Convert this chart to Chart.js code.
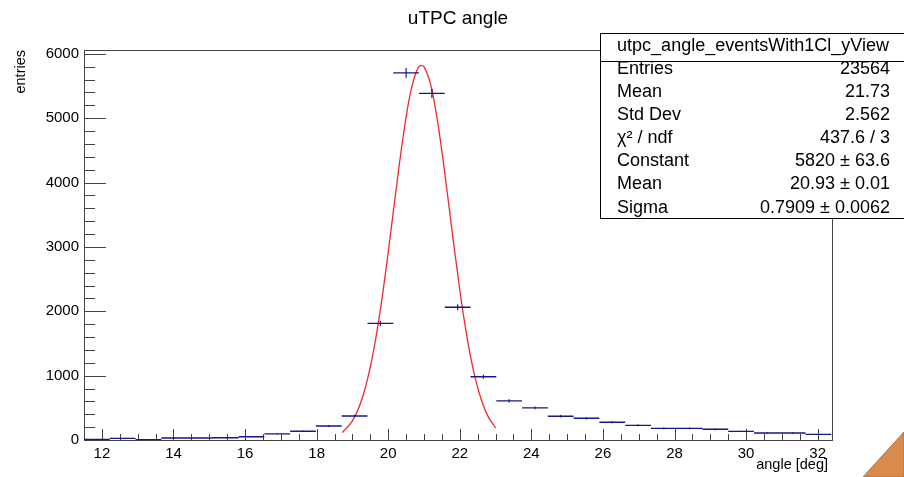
<!DOCTYPE html>
<html>
<head>
<meta charset="utf-8">
<script src="https://cdn.jsdelivr.net/npm/chart.js@4.4.0/dist/chart.umd.min.js"></script>
<style>
  body { margin: 0; background: #fff; }
  canvas { display: block; }
</style>
</head>
<body>
<canvas id="uTPCChart" width="904" height="477"></canvas>
<script>
// Histograma
const binEdges = [11.50, 12.22, 12.94, 13.66, 14.38, 15.10, 15.82, 16.54, 17.26, 17.98,
                  18.70, 19.42, 20.14, 20.86, 21.58, 22.30, 23.02, 23.74, 24.46, 25.18,
                  25.90, 26.62, 27.34, 28.06, 28.78, 29.50, 30.22, 30.94, 31.66, 32.38];
const binCounts = [8, 25, 6, 30, 30, 35, 50, 95, 135, 218,
                   374, 1812, 5704, 5386, 2062, 982, 608, 499, 368, 337,
                   275, 228, 181, 181, 166, 134, 109, 109, 88];

// Curva del ajuste (puntos leídos sobre la línea roja)
const fitX = [18.72, 19.0, 19.2, 19.4, 19.6, 19.8, 20.0, 20.2, 20.4, 20.6, 20.8, 20.93,
              21.0, 21.2, 21.4, 21.6, 21.8, 22.0, 22.2, 22.4, 22.6, 22.8, 23.0];
const fitY = [115, 296, 532, 896, 1415, 2097, 2915, 3801, 4650, 5335, 5742, 5820,
              5797, 5491, 4878, 4065, 3178, 2331, 1604, 1034, 626, 356, 190];

// Etiquetas de los ejes
const xTickValues = [12, 14, 16, 18, 20, 22, 24, 26, 28, 30, 32];
const yTickValues = [0, 1000, 2000, 3000, 4000, 5000, 6000];

// Caja de estadísticas
const statTitle = "utpc_angle_eventsWith1Cl_yView";
const statNames = ["Entries", "Mean", "Std Dev", "\u03C7\u00B2 / ndf", "Constant", "Mean", "Sigma"];
const statValues = ["23564", "21.73", "2.562", "437.6 / 3", "5820 \u00B1 63.6", "20.93 \u00B1 0.01", "0.7909 \u00B1 0.0062"];

const chartTitle = "uTPC angle";
const xTitle = "angle [deg]";
const yTitle = "entries";

const FONT = "'Liberation Sans', Arial, Helvetica, sans-serif";
const HIST_COLOR = "#16168a";
const FIT_COLOR = "#ee2a2a";

// Segmentos horizontales de cada bin
const binLines = [];
const errBars = [];
for (let i = 0; i < binCounts.length; i++) {
    const v = binCounts[i];
    const c = (binEdges[i] + binEdges[i + 1]) / 2;
    binLines.push({ x: binEdges[i], y: v }, { x: binEdges[i + 1], y: v }, { x: binEdges[i + 1], y: null });
    const e = Math.sqrt(v);
    errBars.push({ x: c, y: v - e }, { x: c, y: v + e }, { x: c, y: null });
}
const fitData = fitX.map((x, i) => ({ x: x, y: fitY[i] }));

// Marco y marcas de los ejes al estilo ROOT
const framePlugin = {
    id: "rootFrame",
    beforeDatasetsDraw(chart) {
        const { ctx, chartArea: a, scales } = chart;
        const xs = scales.x, ys = scales.y;
        ctx.save();
        ctx.strokeStyle = "#444";
        ctx.lineWidth = 1;
        ctx.strokeRect(a.left + 0.5, a.top + 0.5, a.right - a.left, a.bottom - a.top);

        ctx.beginPath();
        for (let v = 11.5; v <= 32.4; v += 0.5) {
            const px = Math.round(xs.getPixelForValue(v)) + 0.5;
            const major = Math.abs(v / 2 - Math.round(v / 2)) < 1e-6;
            ctx.moveTo(px, a.bottom);
            ctx.lineTo(px, a.bottom - (major ? 11 : 6));
        }
        for (let v = 0; v <= 6000; v += 200) {
            const py = Math.round(ys.getPixelForValue(v)) + 0.5;
            const major = v % 1000 === 0;
            ctx.moveTo(a.left, py);
            ctx.lineTo(a.left + (major ? 22 : 11), py);
        }
        ctx.stroke();
        ctx.restore();
    },
    afterDraw(chart) {
        const { ctx } = chart;
        ctx.save();

        // Título
        ctx.fillStyle = "#000";
        ctx.font = "19px " + FONT;
        ctx.textAlign = "center";
        ctx.textBaseline = "alphabetic";
        ctx.fillText(chartTitle, 458, 24);

        // Títulos de ejes
        ctx.font = "14.5px " + FONT;
        ctx.textAlign = "right";
        ctx.fillText(xTitle, 828, 469);
        ctx.save();
        ctx.translate(25, 50);
        ctx.rotate(-Math.PI / 2);
        ctx.textAlign = "right";
        ctx.fillText(yTitle, 0, 0);
        ctx.restore();

        // Caja de estadísticas
        const bx = 600.5, by = 33.5, bw = 320, bh = 185;
        ctx.fillStyle = "#fff";
        ctx.fillRect(bx, by, bw, bh);
        ctx.strokeStyle = "#000";
        ctx.lineWidth = 1;
        ctx.strokeRect(bx, by, bw, bh);
        ctx.beginPath();
        ctx.moveTo(bx, 61.5);
        ctx.lineTo(bx + bw, 61.5);
        ctx.stroke();

        ctx.fillStyle = "#000";
        ctx.font = "18px " + FONT;
        ctx.textBaseline = "middle";
        ctx.textAlign = "center";
        ctx.fillText(statTitle, 753, 46);
        for (let i = 0; i < statNames.length; i++) {
            const y = 69 + i * 23.1;
            ctx.textAlign = "left";
            ctx.fillText(statNames[i], 617, y);
            ctx.textAlign = "right";
            ctx.fillText(statValues[i], 890, y);
        }

        // Esquina naranja
        ctx.beginPath();
        ctx.moveTo(863, 477);
        ctx.lineTo(904, 432);
        ctx.lineTo(904, 477);
        ctx.closePath();
        ctx.fillStyle = "#d98b4e";
        ctx.fill();
        ctx.strokeStyle = "#b96a2e";
        ctx.stroke();

        ctx.restore();
    }
};

const ctx = document.getElementById("uTPCChart").getContext("2d");
new Chart(ctx, {
    type: "line",
    data: {
        datasets: [
            {
                label: "bins",
                data: binLines,
                borderColor: HIST_COLOR,
                borderWidth: 1.4,
                pointRadius: 0,
                spanGaps: false,
                tension: 0
            },
            {
                label: "errors",
                data: errBars,
                borderColor: HIST_COLOR,
                borderWidth: 1.2,
                pointRadius: 0,
                spanGaps: false,
                tension: 0
            },
            {
                label: "fit",
                data: fitData,
                borderColor: FIT_COLOR,
                borderWidth: 1.3,
                pointRadius: 0,
                cubicInterpolationMode: "monotone"
            }
        ]
    },
    options: {
        responsive: false,
        animation: false,
        layout: { padding: { top: 50, right: 72, left: 0, bottom: 0 } },
        plugins: {
            legend: { display: false },
            tooltip: { enabled: false },
            title: { display: false }
        },
        scales: {
            x: {
                type: "linear",
                min: 11.5,
                max: 32.4,
                border: { display: false },
                grid: { display: false, drawTicks: false },
                afterBuildTicks: s => { s.ticks = xTickValues.map(v => ({ value: v })); },
                ticks: {
                    padding: 5,
                    color: "#000",
                    font: { family: FONT, size: 15 },
                    maxRotation: 0,
                    autoSkip: false,
                    callback: v => String(v)
                },
                afterFit: s => { s.height = 37; }
            },
            y: {
                type: "linear",
                min: 0,
                max: 6060,
                border: { display: false },
                grid: { display: false, drawTicks: false },
                afterBuildTicks: s => { s.ticks = yTickValues.map(v => ({ value: v })); },
                ticks: {
                    padding: 5,
                    color: "#000",
                    font: { family: FONT, size: 15 },
                    autoSkip: false,
                    callback: v => String(v)
                },
                afterFit: s => { s.width = 84; }
            }
        }
    },
    plugins: [framePlugin]
});
</script>
</body>
</html>
